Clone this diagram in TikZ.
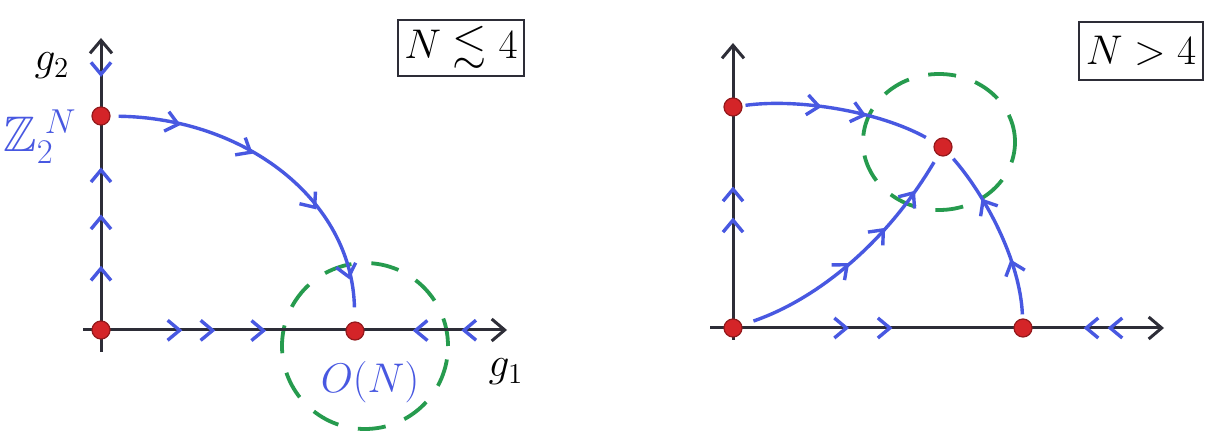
\documentclass[tikz,border=0pt]{standalone}
\usepackage{amssymb}
\usetikzlibrary{arrows.meta,decorations.markings,shapes.geometric}
\definecolor{flowblue}{RGB}{72,88,225}
\definecolor{fpred}{RGB}{212,36,40}
\definecolor{fpgreen}{RGB}{38,155,78}
\definecolor{axisgray}{RGB}{45,45,55}
\tikzset{
  chev/.tip={Straight Barb[length=6pt,width=10pt]},
  axtip/.tip={Straight Barb[length=6.5pt,width=11pt]},
  axis/.style={draw=axisgray,line width=1.5pt,-axtip},
  flowat/.style={postaction={decorate,decoration={markings,
      mark=at position #1 with {\arrow[flowblue,line width=1.7pt]{chev}}}}},
  flow/.style={draw=flowblue,line width=1.7pt},
  fixpt/.style={circle,fill=fpred,draw=fpred!70!black,line width=0.6pt,
      inner sep=0pt,minimum size=9pt},
  region/.style={draw=fpgreen,line width=1.9pt,dash pattern=on 14pt off 10pt,
      inner sep=0pt},
  txt/.style={font=\fontsize{22}{26}\selectfont},
  casebox/.style={draw=axisgray,line width=1.2pt,minimum width=61pt,
      minimum height=27pt,font=\fontsize{22}{26}\selectfont}
}
\begin{document}
\begin{tikzpicture}[x=0.5pt,y=-0.5pt]
\useasboundingbox (0,0) rectangle (1205,432);
\fill[white] (0,0) rectangle (1205,432);

% ---------------- left panel: N <~ 4 ----------------
\coordinate (LB) at (101,352);
\coordinate (LT) at (101,38);
\coordinate (LL) at (83,330);
\coordinate (LR) at (507,330);
\node[region,circle,minimum size=83pt] (OR) at (365,346) {};
\draw[axis] (LB) -- (LT);
\draw[axis] (LL) -- (LR);
\node[fixpt] (A0) at (101,330) {};
\node[fixpt] (A1) at (101,116) {};
\node[fixpt] (A2) at (355,331) {};

\path[flowat=0.30,flowat=0.54,flowat=0.76] (A0.center) -- (A1.center);
\path[flowat=0.5] (LT) -- (A1.center);
\path[flowat=0.32,flowat=0.45,flowat=0.65] (A0.center) -- (A2.center);
\path[flowat=0.30,flowat=0.62] (LR) -- (A2.center);

\draw[flow,shorten <=4pt,shorten >=7pt,
      flowat=0.2,flowat=0.42,flowat=0.66,flowat=0.88]
  (A1) .. controls (245,118) and (352,200) .. (A2);

\node[txt] (g2) at (52,66) {$g_2$};
\node[txt,text=flowblue,font=\fontsize{25}{30}\selectfont,inner sep=0pt] (ZN) at (40,137)
  {$\mathbb{Z}_2^{\hspace{4pt}N}$};
\node[txt] (g1) at (506,372) {$g_1$};
\node[txt,text=flowblue] (ON) at (370,382) {$O(N)$};
\node[casebox] (c1) at (461,48) {$N\lesssim 4$};

% ---------------- right panel: N > 4 ----------------
\coordinate (RB) at (733,340);
\coordinate (RT) at (733,43);
\coordinate (RL) at (710,328);
\coordinate (RR) at (1164,328);
\node[region,ellipse,minimum width=76pt,minimum height=68pt] (OR2) at (939,142) {};
\draw[axis] (RB) -- (RT);
\draw[axis] (RL) -- (RR);
\node[fixpt] (B0) at (733,328) {};
\node[fixpt] (B1) at (733,107) {};
\node[fixpt] (B2) at (1023,328) {};
\node[fixpt] (B3) at (943,147) {};

\path[flowat=0.50,flowat=0.64] (B0.center) -- (B1.center);
\path[flowat=0.40,flowat=0.55] (B0.center) -- (B2.center);
\path[flowat=0.40,flowat=0.57] (RR) -- (B2.center);

\draw[flow,shorten <=1.5pt,shorten >=5pt,flowat=0.4,flowat=0.63]
  (B1) .. controls (800,98) and (880,112) .. (B3);
\draw[flow,shorten <=6pt,shorten >=4pt,flowat=0.47,flowat=0.66,flowat=0.84]
  (B0) .. controls (815,300) and (885,245) .. (B3);
\draw[flow,shorten <=2pt,shorten >=3pt,flowat=0.33,flowat=0.70]
  (B2) .. controls (1020,260) and (985,195) .. (B3);

\node[casebox,minimum height=29pt] (c2) at (1141,51) {$N>4$};
\end{tikzpicture}
\end{document}
